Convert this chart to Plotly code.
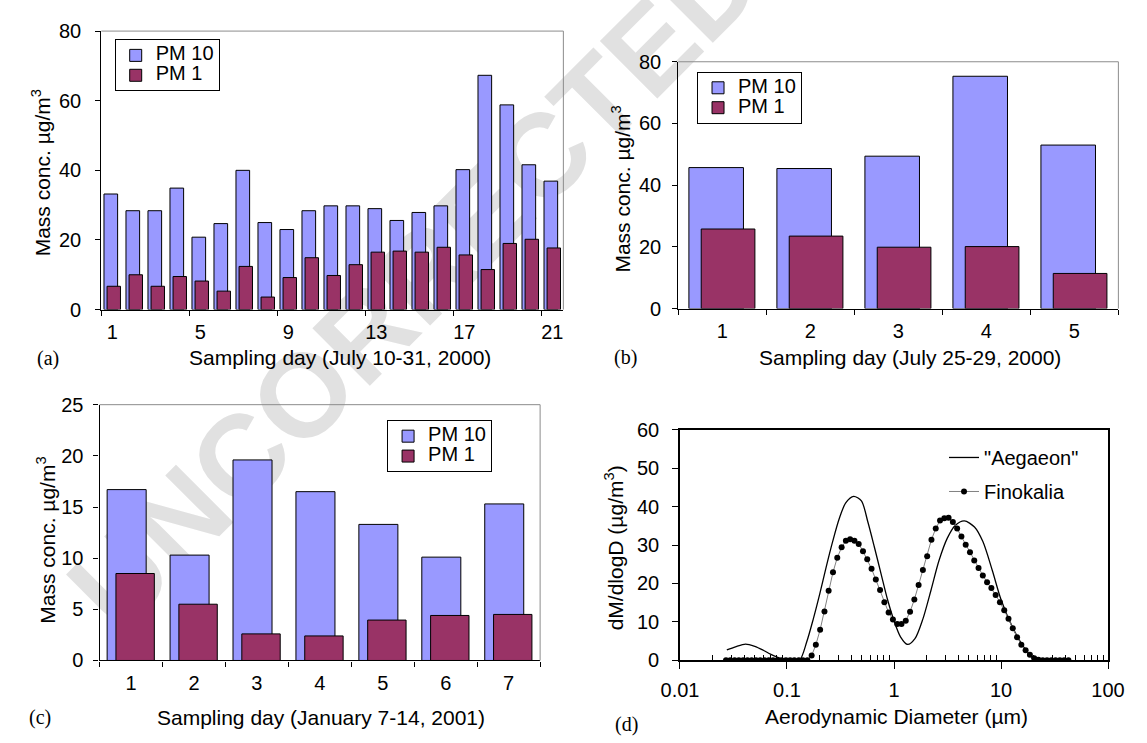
import plotly.graph_objects as go

W, H = 1147, 743

# ---------------- data ----------------
days_a = list(range(1, 22))
pm10_a = [33.2, 28.4, 28.4, 34.9, 20.8, 24.7, 40.0, 25.0, 23.0, 28.4, 29.8,
          29.8, 29.0, 25.6, 27.9, 29.8, 40.2, 67.3, 58.8, 41.6, 36.9]
pm1_a = [6.7, 10.0, 6.7, 9.5, 8.2, 5.3, 12.4, 3.6, 9.2, 14.9, 9.8,
         12.9, 16.5, 16.8, 16.5, 17.9, 15.7, 11.5, 19.0, 20.2, 17.7]
labels_a = [1, 5, 9, 13, 17, 21]
bounds_a = [0.5, 4.5, 8.5, 12.5, 16.5, 20.5]

days_b = [1, 2, 3, 4, 5]
pm10_b = [45.7, 45.4, 49.4, 75.3, 53.0]
pm1_b = [25.8, 23.5, 19.9, 20.1, 11.4]
bounds_b = [0.5, 1.5, 2.5, 3.5, 4.5, 5.5]

days_c = [1, 2, 3, 4, 5, 6, 7]
pm10_c = [16.7, 10.3, 19.6, 16.5, 13.3, 10.1, 15.3]
pm1_c = [8.5, 5.5, 2.6, 2.4, 3.95, 4.4, 4.5]
bounds_c = [0.5, 1.5, 2.5, 3.5, 4.5, 5.5, 6.5, 7.5]

aeg_d = [0.0274, 0.033, 0.041, 0.05, 0.06, 0.07, 0.081, 0.094, 0.11, 0.131,
         0.153, 0.176, 0.203, 0.232, 0.267, 0.307, 0.354, 0.42, 0.496, 0.57,
         0.658, 0.757, 0.87, 1.0, 1.15, 1.34, 1.57, 1.86, 2.22, 2.63, 3.15,
         3.73, 4.54, 5.65, 6.77, 8.31, 10.0, 12.6, 15.8, 19.0, 21.3, 25.0]
aeg_y = [2.7, 3.5, 4.2, 3.6, 2.6, 1.6, 0.8, 0.1, 0.0, 0.0,
         4.8, 10.7, 17.4, 24.2, 30.9, 36.8, 41.0, 42.7, 41.5, 36.0,
         29.3, 22.5, 15.8, 10.3, 6.1, 4.1, 5.6, 10.7, 18.3, 25.9, 31.8,
         35.1, 36.3, 34.7, 30.9, 23.3, 15.8, 9.0, 4.0, 1.0, 0.0, 0.0]

fin_d = [0.0269, 0.0295, 0.0324, 0.0355, 0.0389, 0.0427, 0.0468, 0.0513, 0.0562, 0.0617,
         0.0676, 0.0741, 0.0813, 0.0891, 0.0977, 0.107, 0.117, 0.129, 0.141, 0.155,
         0.170, 0.186, 0.204, 0.224, 0.245, 0.269, 0.295, 0.324, 0.355, 0.389,
         0.427, 0.468, 0.513, 0.562, 0.617, 0.676, 0.741, 0.813, 0.891, 0.977,
         1.072, 1.175, 1.288, 1.413, 1.549, 1.698, 1.862, 2.042, 2.239, 2.455,
         2.692, 2.951, 3.236, 3.548, 3.890, 4.266, 4.677, 5.129, 5.623, 6.166,
         6.761, 7.413, 8.128, 8.913, 9.772, 10.72, 11.75, 12.88, 14.13, 15.49,
         16.98, 18.62, 20.42, 22.39, 24.55, 26.92, 29.51, 32.36, 35.48, 38.90, 42.66]
fin_y = [0, 0, 0, 0, 0, 0, 0, 0, 0, 0,
         0, 0, 0, 0, 0, 0, 0, 0, 0, 0,
         1.2, 4.0, 7.9, 12.7, 18.1, 22.9, 26.7, 29.4, 31.1, 31.5,
         31.1, 30.3, 28.4, 26.3, 23.8, 21.0, 18.3, 15.1, 12.4, 10.6,
         9.4, 9.4, 10.3, 12.6, 15.8, 19.6, 23.5, 27.1, 31.4, 34.3,
         36.4, 37.0, 37.1, 36.0, 34.3, 32.2, 30.1, 28.1, 26.0, 24.0,
         22.1, 20.3, 18.8, 17.0, 15.1, 13.0, 10.8, 8.3, 6.0, 4.0,
         2.6, 1.4, 0.5, 0.1, 0, 0, 0, 0, 0, 0, 0]
dec_d = [0.01, 0.1, 1, 10, 100]
dec_labels = ['0.01', '0.1', '1', '10', '100']
minor_d = [0.02, 0.03, 0.04, 0.05, 0.06, 0.07, 0.08, 0.09,
           0.2, 0.3, 0.4, 0.5, 0.6, 0.7, 0.8, 0.9,
           2, 3, 4, 5, 6, 7, 8, 9,
           20, 30, 40, 50, 60, 70, 80, 90]

# ---------------- styling ----------------
PM10_COLOR = '#9999ff'
PM1_COLOR = '#993366'
SANS = 'Liberation Sans, Arial, Helvetica, sans-serif'
SERIF = 'Liberation Serif, Times New Roman, serif'
TICK = 20
TITLE = 21
LEG = '<span style="font-size:20px">%s</span>'


def px(x):
    return x / W


def py(y):
    return 1 - y / H


fig = go.Figure()


def add_bars(days, pm10, pm1, xa, ya, legend):
    fig.add_trace(go.Bar(x=days, y=pm10, name=LEG % 'PM 10', xaxis=xa, yaxis=ya, legend=legend,
                         width=0.62, offset=-0.38,
                         marker=dict(color=PM10_COLOR, line=dict(color='black', width=1))))
    fig.add_trace(go.Bar(x=days, y=pm1, name=LEG % 'PM 1', xaxis=xa, yaxis=ya, legend=legend,
                         width=0.61, offset=-0.24,
                         marker=dict(color=PM1_COLOR, line=dict(color='black', width=1))))


add_bars(days_a, pm10_a, pm1_a, 'x', 'y', 'legend')
add_bars(days_b, pm10_b, pm1_b, 'x2', 'y2', 'legend2')
add_bars(days_c, pm10_c, pm1_c, 'x3', 'y3', 'legend3')

fig.add_trace(go.Scatter(x=aeg_d, y=aeg_y, name='"Aegaeon"', mode='lines', xaxis='x4', yaxis='y4',
                         legend='legend4', legendgroup='a',
                         line=dict(color='black', width=1.3, shape='spline', smoothing=0.8)))
fig.add_trace(go.Scatter(x=fin_d, y=fin_y, name='Finokalia', mode='lines+markers', xaxis='x4', yaxis='y4',
                         legend='legend4', legendgroup='f',
                         line=dict(color='#808080', width=1),
                         marker=dict(color='black', size=6)))


def bar_xaxis(dom, anchor, n, ticks, bounds):
    return dict(domain=dom, anchor=anchor, range=[0.5, n + 0.5], tickmode='array', tickvals=ticks,
                ticks='', showline=True, linecolor='black', linewidth=1.3, showgrid=False, zeroline=False,
                tickfont=dict(size=TICK), ticklabelstandoff=4,
                minor=dict(tickmode='array', tickvals=bounds, ticks='outside', ticklen=5,
                           tickcolor='black', tickwidth=1, showgrid=False))


def bar_yaxis(dom, anchor, top, dt, standoff):
    return dict(domain=dom, anchor=anchor, range=[0, top], tick0=0, dtick=dt, ticks='outside',
                ticklen=5, tickcolor='black', showline=True, linecolor='black', linewidth=1.3,
                showgrid=False, zeroline=False, tickfont=dict(size=TICK), ticklabelstandoff=standoff)


dom_a = ([px(85), px(562)], [py(307.7), py(20.7)])
dom_b = ([px(680.7), px(1135)], [py(306.7), py(52.3)])
dom_c = ([px(83.2), px(538)], [py(669.3), py(405.7)])
dom_d = ([px(682.4), px(1124.3)], [py(669), py(431.7)])

box_leg = dict(xanchor='left', yanchor='top', bgcolor='white', bordercolor='black', borderwidth=1,
               font=dict(size=13), itemwidth=30, tracegroupgap=0)

fig.update_layout(
    width=W, height=H, margin=dict(l=0, r=0, t=0, b=0),
    paper_bgcolor='white', plot_bgcolor='rgba(0,0,0,0)', barmode='overlay',
    font=dict(family=SANS, size=TICK, color='black'),
    xaxis=bar_xaxis(dom_a[0], 'y', 21, labels_a, bounds_a),
    yaxis=bar_yaxis(dom_a[1], 'x', 80, 20, 10),
    xaxis2=bar_xaxis(dom_b[0], 'y2', 5, days_b, bounds_b),
    yaxis2=bar_yaxis(dom_b[1], 'x2', 80, 20, 7),
    xaxis3=bar_xaxis(dom_c[0], 'y3', 7, days_c, bounds_c),
    yaxis3=bar_yaxis(dom_c[1], 'x3', 25, 5, 6),
    xaxis4=dict(domain=dom_d[0], anchor='y4', type='log', range=[-2, 2], tickmode='array',
                tickvals=dec_d, ticktext=dec_labels, ticks='outside', ticklen=7, tickcolor='black',
                showline=True, mirror=True, linecolor='black', linewidth=1.5, showgrid=False,
                zeroline=False, tickfont=dict(size=TICK), ticklabelstandoff=4,
                minor=dict(tickmode='array', tickvals=minor_d, ticks='inside', ticklen=5,
                           tickcolor='black', showgrid=False)),
    yaxis4=dict(domain=dom_d[1], anchor='x4', range=[0, 60], tick0=0, dtick=10, ticks='outside',
                ticklen=6, tickcolor='black', showline=True, mirror=True, linecolor='black',
                linewidth=1.5, showgrid=False, zeroline=False, tickfont=dict(size=TICK),
                ticklabelstandoff=9),
    showlegend=True,
    legend=dict(x=px(98.8), y=py(29.3), **box_leg),
    legend2=dict(x=px(700), y=py(62.7), **box_leg),
    legend3=dict(x=px(380), y=py(421.7), **box_leg),
    legend4=dict(x=px(955), y=py(440), xanchor='left', yanchor='top', bgcolor='rgba(0,0,0,0)',
                 borderwidth=0, font=dict(size=20), itemwidth=30, tracegroupgap=5),
)

# grey top/right frame on the bar panels
for xr, yr in [('x', 'y'), ('x2', 'y2'), ('x3', 'y3')]:
    fig.add_shape(type='line', xref=xr + ' domain', yref=yr + ' domain', x0=0, x1=1, y0=1, y1=1,
                  line=dict(color='#8c8c8c', width=1))
    fig.add_shape(type='line', xref=xr + ' domain', yref=yr + ' domain', x0=1, x1=1, y0=0, y1=1,
                  line=dict(color='#8c8c8c', width=1))

# watermark (below the data)
fig.add_shape(type='rect', xref='paper', yref='paper', x0=px(560), x1=px(570), y0=py(113), y1=py(103),
              line=dict(width=0), fillcolor='rgba(0,0,0,0)', layer='below',
              label=dict(text='UNCORRECTED PROOF', textangle=-45, textposition='middle center',
                         font=dict(size=118, color='#e1e1e1', family=SANS, weight='bold')))

ann = []


def text(x, y, s, size=TITLE, family=SANS, angle=0):
    ann.append(dict(x=px(x), y=py(y), xref='paper', yref='paper', text=s, showarrow=False,
                    xanchor='center', yanchor='middle', textangle=angle,
                    font=dict(size=size, family=family, color='black')))


# x titles
text(331.7, 356.7, 'Sampling day (July 10-31, 2000)')
text(920, 356.7, 'Sampling day (July 25-29, 2000)')
text(311.6, 728.3, 'Sampling day (January 7-14, 2001)')
text(905.5, 726.7, 'Aerodynamic Diameter (µm)')
# y titles
text(23, 167, 'Mass conc. µg/m<sup>3</sup>', angle=-90)
text(621.5, 183, 'Mass conc. µg/m<sup>3</sup>', angle=-90)
text(27.7, 545, 'Mass conc. µg/m<sup>3</sup>', angle=-90)
text(614, 553, 'dM/dlogD (µg/m<sup>3</sup>)', angle=-90)
# panel letters
text(29.6, 358, '(a)', size=20, family=SERIF)
text(626, 357.5, '(b)', size=20, family=SERIF)
text(22, 728.5, '(c)', size=20, family=SERIF)
text(627, 735, '(d)', size=20, family=SERIF)

fig.update_layout(annotations=ann)

fig.write_html('out.html')
